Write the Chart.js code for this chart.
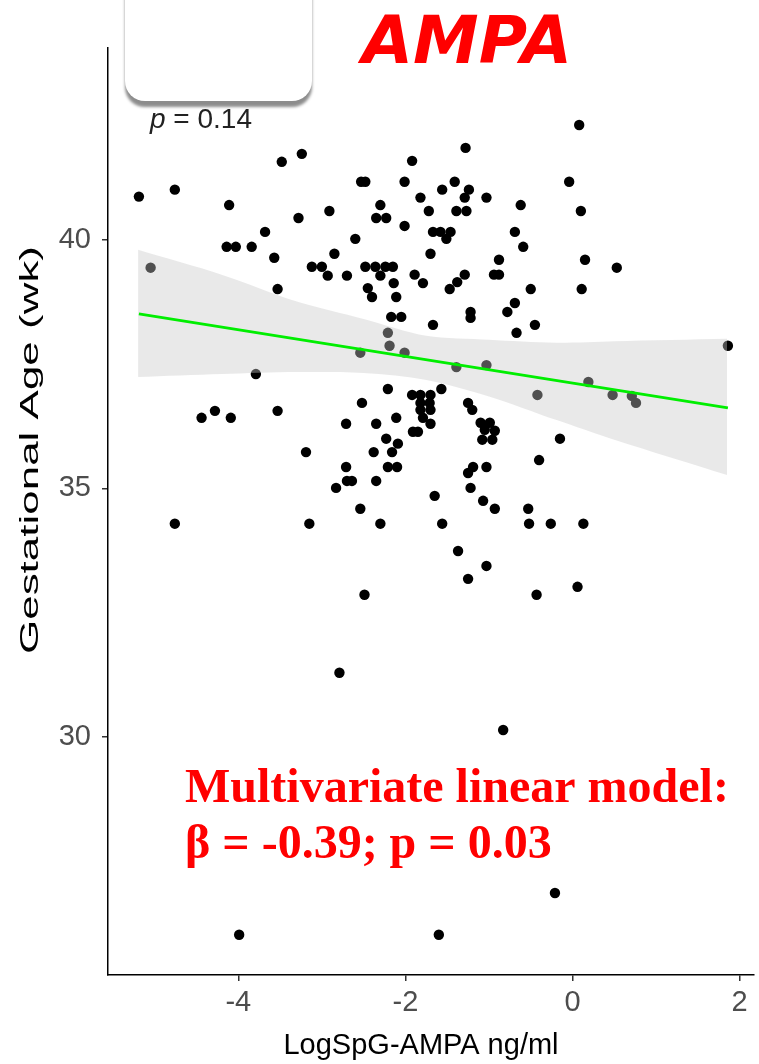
<!DOCTYPE html>
<html>
<head>
<meta charset="utf-8">
<script src="https://cdn.jsdelivr.net/npm/chart.js@4.4.1/dist/chart.umd.min.js"></script>
<style>
  html, body { margin: 0; padding: 0; background: #fff; }
  #wrap { width: 759px; height: 1064px; position: relative; }
</style>
</head>
<body>
<div id="wrap"><canvas id="ampaChart"></canvas></div>
<script>
// scatter: LogSpG-AMPA (ng/ml) vs gestational age (wk)
const logAmpa = [
  -5.19, -4.76, -3.48, -3.24, -4.11, -3.68, -3.28, -2.91, -2.60, -2.85,
  -4.14, -4.03, -3.84, -3.57, -2.53, -2.48, -2.30, -2.35, -2.23, -2.01,
  -1.92, -1.82, -2.01, -1.72, 0.08, -1.28, -0.04, -1.41, -1.56, -1.24,
  -1.29, -1.03, -1.39, -1.27, -0.62, 0.10, -1.67, -1.58, -1.46, -1.51,
  -0.69, -0.59, -1.70, -0.88, 0.15, -3.12, -3.00, -2.93, -2.70, -2.48,
  -2.36, -2.24, -2.15, -2.30, -2.14, -1.89, -1.79, -2.45, -2.40, -2.11,
  -3.53, -1.47, -1.38, -1.29, -0.94, -0.88, -0.50, -0.69, -0.78, -1.22,
  -1.22, -2.17, -2.05, -1.67, -0.45, -0.67, 0.53, 0.11, 1.86, -5.05,
  -2.21, -2.19, -2.54, -2.01, -1.39, -1.03, 0.19, -0.42, 0.48, 0.71,
  0.76, -3.79, -4.44, -4.28, -4.09, -3.53, -2.21, -1.92, -1.82, -1.70,
  -1.57, -2.52, -1.82, -1.82, -1.70, -1.79, -1.70, -2.71, -2.35, -2.11,
  -1.91, -1.85, -2.23, -2.09, -2.16, -3.19, -2.38, -2.71, -2.21, -2.10,
  -2.70, -2.64, -2.35, -2.83, -1.65, -1.25, -1.20, -1.10, -0.99, -1.05,
  -0.93, -1.08, -0.96, -0.15, -0.40, -1.19, -1.25, -1.03, -1.22, -1.07,
  -0.93, -0.53, -2.54, -4.76, -3.15, -2.30, -2.49, -2.79, -1.56, -0.52,
  -0.26, 0.13, -1.37, -1.03, -1.25, -0.43, 0.06, -0.83, -3.99, -1.60,
  -0.21, -1.71
];
const gestAge = [
  40.87, 41.01, 41.57, 41.73, 40.70, 40.16, 40.44, 40.58, 40.02, 39.72,
  39.86, 39.86, 39.86, 39.64, 41.17, 41.17, 40.70, 40.44, 40.44, 41.17,
  41.59, 40.85, 40.28, 40.58, 42.31, 41.85, 41.17, 41.17, 41.01, 41.01,
  40.85, 40.85, 40.58, 40.58, 40.70, 40.58, 40.16, 40.16, 40.16, 40.02,
  40.16, 39.86, 39.72, 39.60, 39.60, 39.46, 39.46, 39.28, 39.28, 39.46,
  39.46, 39.46, 39.46, 39.28, 39.13, 39.30, 39.13, 39.03, 38.85, 38.85,
  39.01, 39.01, 39.15, 39.30, 39.30, 39.30, 39.01, 38.73, 38.55, 38.55,
  38.43, 38.45, 38.45, 38.29, 38.29, 38.13, 39.44, 39.01, 37.87, 39.44,
  38.13, 37.87, 37.73, 37.73, 37.44, 37.48, 37.14, 36.88, 36.88, 36.86,
  36.72, 37.30, 36.42, 36.56, 36.42, 36.56, 37.00, 36.88, 36.88, 36.88,
  37.00, 36.72, 36.72, 36.58, 36.58, 36.42, 36.30, 36.30, 36.30, 36.42,
  36.14, 36.14, 36.00, 35.90, 35.73, 35.73, 35.73, 35.43, 35.43, 35.43,
  35.15, 35.15, 35.15, 35.01, 34.85, 36.72, 36.58, 36.32, 36.32, 36.18,
  36.16, 35.98, 35.98, 36.00, 35.57, 35.43, 35.31, 35.43, 35.01, 34.75,
  34.59, 34.59, 34.59, 34.29, 34.29, 34.29, 32.86, 31.29, 34.29, 34.29,
  34.29, 34.29, 33.74, 33.44, 33.18, 32.86, 33.02, 30.14, 26.02, 26.02,
  26.86, 36.72
];

// regression line and its confidence band
const fitX = [-5.19, 1.86];
const fitY = [38.51, 36.62];
const bandX = [-5.2, -4.2, -3.3, -2.5, -1.75, -1.0, -0.2, 0.5, 1.85];
const bandUpper = [39.80, 39.30, 38.76, 38.41, 38.07, 37.99, 37.93, 37.96, 38.01];
const bandLower = [37.24, 37.30, 37.34, 37.32, 37.18, 36.85, 36.38, 35.98, 35.27];

// axes
const xTicks = [-4, -2, 0, 2];
const yTicks = [30, 35, 40];
const xRange = [-5.56, 2.17];
const yRange = [25.21, 43.86];
const xTitle = 'LogSpG-AMPA ng/ml';
const yTitle = 'Gestational Age (wk)';

const toPoints = (xs, ys) => xs.map((x, i) => ({ x: x, y: ys[i] }));
const sansFont = '"Liberation Sans", Arial, sans-serif';

const overlay = {
    id: 'overlay',
    afterDraw(chart) {
        const ctx = chart.ctx;
        ctx.save();

        // axis titles
        ctx.fillStyle = '#000';
        ctx.font = '29px ' + sansFont;
        ctx.textAlign = 'center';
        ctx.textBaseline = 'middle';
        ctx.fillText(xTitle, 421, 1046);
        // y title is stretched along its length in the original figure
        ctx.save();
        ctx.font = '25px ' + sansFont;
        ctx.translate(31, 450);
        ctx.rotate(-Math.PI / 2);
        const tw = ctx.measureText(yTitle).width;
        ctx.scale(408 / tw, 1);
        ctx.fillText(yTitle, 0, 0);
        ctx.restore();

        // p value under the label box
        ctx.textAlign = 'left';
        ctx.textBaseline = 'alphabetic';
        ctx.fillStyle = '#222';
        ctx.font = 'italic 28px ' + sansFont;
        ctx.fillText('p', 150, 128);
        const pw = ctx.measureText('p').width;
        ctx.font = '28px ' + sansFont;
        ctx.fillText(' = 0.14', 150 + pw, 128);

        // white rounded box with a shadow
        ctx.save();
        ctx.shadowColor = 'rgba(0,0,0,0.45)';
        ctx.shadowOffsetY = 6;
        ctx.shadowBlur = 3;
        ctx.fillStyle = '#fff';
        ctx.beginPath();
        ctx.roundRect(125, -40, 187, 141, 20);
        ctx.fill();
        ctx.restore();

        // big title
        ctx.fillStyle = '#ff0000';
        ctx.font = 'italic bold 66px "DejaVu Sans", sans-serif';
        ctx.fillText('AMPA', 362, 63);

        // model note
        ctx.font = 'bold 48px "Liberation Serif", "Times New Roman", serif';
        ctx.fillText('Multivariate linear model:', 185, 802);
        ctx.fillText('\u03b2 = -0.39; p = 0.03', 185, 858);

        ctx.restore();
    }
};

new Chart(document.getElementById('ampaChart'), {
    type: 'scatter',
    data: {
        datasets: [
            {
                type: 'line',
                data: toPoints(fitX, fitY),
                borderColor: '#00ee00',
                borderWidth: 2.8,
                pointRadius: 0,
                fill: false,
                order: 1
            },
            {
                type: 'line',
                data: toPoints(bandX, bandUpper),
                borderWidth: 0,
                borderColor: 'rgba(0,0,0,0)',
                pointRadius: 0,
                tension: 0.3,
                fill: '+1',
                backgroundColor: 'rgba(200,200,200,0.4)',
                order: 2
            },
            {
                type: 'line',
                data: toPoints(bandX, bandLower),
                borderWidth: 0,
                borderColor: 'rgba(0,0,0,0)',
                pointRadius: 0,
                tension: 0.3,
                fill: false,
                order: 3
            },
            {
                data: toPoints(logAmpa, gestAge),
                pointRadius: 5.2,
                pointBackgroundColor: '#000',
                pointBorderWidth: 0,
                order: 4
            }
        ]
    },
    options: {
        responsive: true,
        maintainAspectRatio: false,
        animation: false,
        layout: { padding: { top: 48, right: 0, left: 0, bottom: 0 } },
        plugins: {
            legend: { display: false },
            tooltip: { enabled: false }
        },
        scales: {
            x: {
                type: 'linear',
                min: xRange[0],
                max: xRange[1],
                afterBuildTicks: s => { s.ticks = xTicks.map(v => ({ value: v })); },
                afterFit: s => { s.height = 89; },
                grid: { drawOnChartArea: false, drawTicks: true, tickLength: 6, color: '#333', lineWidth: 1.5 },
                border: { display: true, color: '#000', width: 1.5 },
                ticks: { color: '#4d4d4d', padding: 5, maxRotation: 0, font: { family: sansFont, size: 29 } }
            },
            y: {
                type: 'linear',
                min: yRange[0],
                max: yRange[1],
                afterBuildTicks: s => { s.ticks = yTicks.map(v => ({ value: v })); },
                afterFit: s => { s.width = 108; },
                grid: { drawOnChartArea: false, drawTicks: true, tickLength: 6, color: '#333', lineWidth: 1.5 },
                border: { display: true, color: '#000', width: 1.5 },
                ticks: { color: '#4d4d4d', padding: 11, font: { family: sansFont, size: 29 } }
            }
        }
    },
    plugins: [overlay]
});
</script>
</body>
</html>
